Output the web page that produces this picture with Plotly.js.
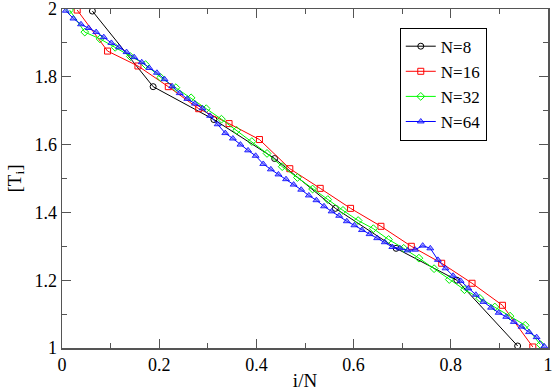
<!DOCTYPE html>
<html>
<head>
<meta charset="utf-8">
<script src="https://cdn.plot.ly/plotly-3.0.1.min.js"></script>
<style>
html,body{margin:0;padding:0;background:#fff;}
#chart text{font-family:"Liberation Serif" !important;}
#chart .xtick text, #chart .ytick text{font-size:18px !important;}
#chart .legendtext{font-size:17px !important;}
#chart .g-xtitle text, #chart .g-ytitle text{font-size:19px !important;}
</style>
</head>
<body>
<div id="chart" style="width:554px;height:391px"></div>
<script>
// Series values (y); x positions are (i-0.5)/N
const names = ["N=8", "N=16", "N=32", "N=64"];
const y8 = [1.994, 1.771, 1.674, 1.559, 1.412, 1.294, 1.200, 1.006];
const y16 = [1.997, 1.876, 1.832, 1.771, 1.706, 1.662, 1.615, 1.529, 1.471, 1.412, 1.359, 1.300, 1.250, 1.191, 1.126, 1.003];
const y32 = [1.997, 1.932, 1.912, 1.887, 1.860, 1.836, 1.798, 1.768, 1.738, 1.706, 1.675, 1.642, 1.609, 1.574, 1.535, 1.503,
             1.469, 1.438, 1.406, 1.376, 1.352, 1.320, 1.294, 1.265, 1.234, 1.202, 1.172, 1.147, 1.121, 1.094, 1.067, 1.010];
const y64 = [1.995, 1.972, 1.955, 1.944, 1.932, 1.917, 1.900, 1.887, 1.873, 1.858, 1.843, 1.826, 1.812, 1.793, 1.772, 1.752,
             1.735, 1.721, 1.707, 1.685, 1.660, 1.634, 1.618, 1.600, 1.583, 1.567, 1.543, 1.527, 1.512, 1.498, 1.482, 1.467,
             1.450, 1.436, 1.418, 1.403, 1.390, 1.374, 1.362, 1.348, 1.336, 1.324, 1.312, 1.298, 1.294, 1.288, 1.290, 1.302,
             1.294, 1.260, 1.235, 1.213, 1.198, 1.176, 1.157, 1.136, 1.119, 1.104, 1.092, 1.077, 1.063, 1.047, 1.032, 1.005];
const xTickVals = [0, 0.2, 0.4, 0.6, 0.8, 1];
const xTickText = ["0", "0.2", "0.4", "0.6", "0.8", "1"];
const yTickVals = [1, 1.2, 1.4, 1.6, 1.8, 2];
const yTickText = ["1", "1.2", "1.4", "1.6", "1.8", "2"];

function xs(n) { const a = []; for (let i = 1; i <= n; i++) a.push((i - 0.5) / n); return a; }

const traces = [
  {x: xs(8), y: y8, name: names[0], mode: "lines+markers",
   line: {color: "#000000", width: 1}, marker: {symbol: "circle-open", size: 6, color: "#000000", line: {width: 1}}},
  {x: xs(16), y: y16, name: names[1], mode: "lines+markers",
   line: {color: "#ff0000", width: 1}, marker: {symbol: "square-open", size: 6, color: "#ff0000", line: {width: 1}}},
  {x: xs(32), y: y32, name: names[2], mode: "lines+markers",
   line: {color: "#00ff00", width: 1}, marker: {symbol: "diamond-open", size: 6, color: "#00ee00", line: {width: 1}}},
  {x: xs(64), y: y64, name: names[3], mode: "lines+markers",
   line: {color: "#0000ff", width: 1}, marker: {symbol: "triangle-up", size: 6, color: "rgba(90,90,255,0.55)", line: {width: 0.8, color: "#0000ff"}}}
];

function axis(extra) {
  return Object.assign({
    showgrid: false, zeroline: false, showline: true, linecolor: "#555555", linewidth: 1.5,
    mirror: "ticks", ticks: "inside", ticklen: 9, tickwidth: 1.2, tickcolor: "#555555",
    tickfont: {family: "Liberation Serif", size: 18, color: "#000000"}, ticklabeloverflow: "allow",
    minor: {dtick: 0.1, ticks: "inside", ticklen: 5, tickwidth: 1, tickcolor: "#555555"}
  }, extra);
}

const layout = {
  width: 554, height: 391,
  margin: {l: 62, r: 6, t: 9, b: 43},
  paper_bgcolor: "#ffffff", plot_bgcolor: "#ffffff",
  font: {family: "Liberation Serif", size: 18, color: "#000000"},
  showlegend: true,
  legend: {x: 0.695, y: 0.945, xanchor: "left", yanchor: "top", bgcolor: "#ffffff",
           bordercolor: "#000000", borderwidth: 1, font: {family: "Liberation Serif", size: 17, color: "#000000"},
           tracegroupgap: 0},
  xaxis: axis({
    range: [0, 1], tickmode: "array", tickvals: xTickVals, ticktext: xTickText,
    title: {text: "i/N", font: {family: "Liberation Serif", size: 19, color: "#000000"}, standoff: 2}
  }),
  yaxis: axis({
    range: [1, 2.0001], tickmode: "array", tickvals: yTickVals, ticktext: yTickText,
    title: {text: "[T<sub>i</sub>]", font: {family: "Liberation Serif", size: 19, color: "#000000"}, standoff: 8}
  })
};

Plotly.newPlot("chart", traces, layout, {staticPlot: true});
</script>
</body>
</html>
